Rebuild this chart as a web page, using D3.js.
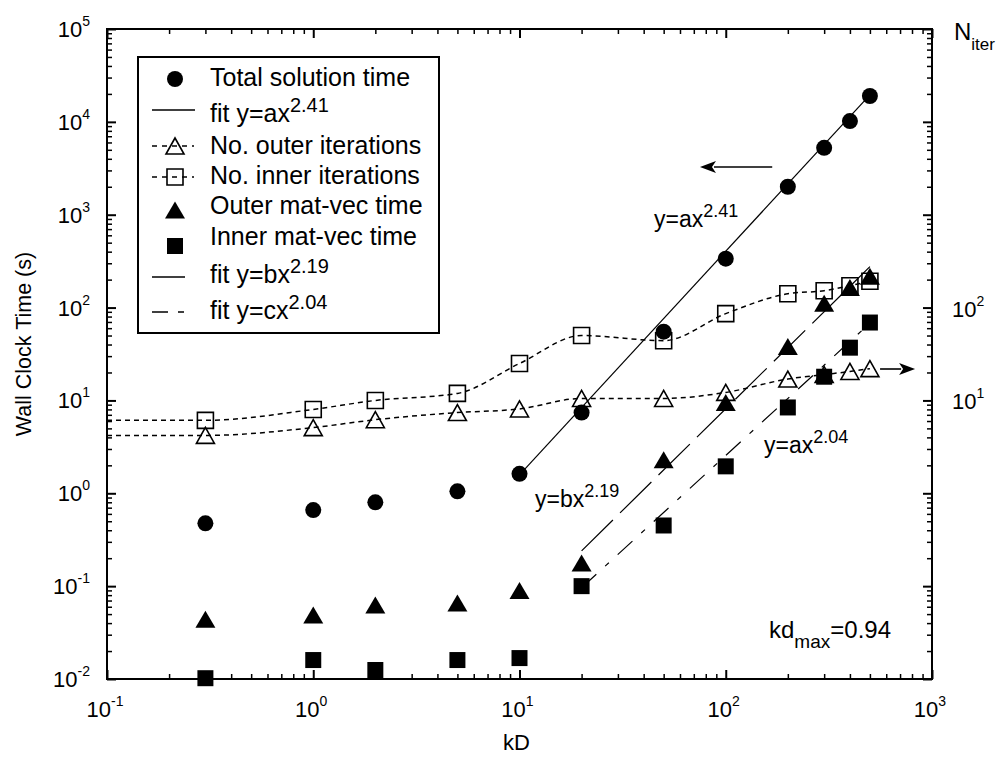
<!DOCTYPE html>
<html>
<head>
<meta charset="utf-8">
<script src="https://cdn.jsdelivr.net/npm/d3@7"></script>
<style>
  body { margin: 0; background: #fff; }
  svg { display: block; font-family: 'Liberation Sans', Arial, sans-serif; }
</style>
</head>
<body>
<div id="chart"></div>
<script>
const SIZE = Object.freeze({ WIDTH: 1002, HEIGHT: 759 }),
      PLOT = Object.freeze({ LEFT: 107, RIGHT: 932, TOP: 29, BOTTOM: 679 })

// data
const KD = [0.3, 1, 2, 5, 10, 20, 50, 100, 200, 300, 400, 500]
const TOTAL_TIME = [0.475, 0.66, 0.80, 1.05, 1.62, 7.4, 55, 336, 2000, 5250, 10200, 19000]
const OUTER_ITER = [4.2, 5.1, 6.2, 7.4, 8.1, 10.5, 10.5, 12.2, 17, 19, 20.5, 22]
const INNER_ITER = [6.1, 8.0, 10, 11.9, 25, 50, 44, 86, 141, 152, 172, 192]
const OUTER_MATVEC = [0.044, 0.049, 0.0625, 0.066, 0.09, 0.177, 2.3, 9.5, 38, 111, 164, 218]
const INNER_MATVEC = [0.0102, 0.016, 0.0125, 0.016, 0.0168, 0.1, 0.45, 1.95, 8.4, 18, 37, 69]
const FIT_A = [[10, 1.58], [500, 19500]]
const FIT_B = [[20, 0.24], [500, 276]]
const FIT_C = [[20, 0.096], [500, 68]]

const X_TICKS = [0.1, 1, 10, 100, 1000],
      X_TICK_EXP = ['-1', '0', '1', '2', '3']
const Y_TICKS = [1e-2, 1e-1, 1, 10, 100, 1e3, 1e4, 1e5],
      Y_TICK_EXP = ['-2', '-1', '0', '1', '2', '3', '4', '5']
const N_TICKS = [10, 100],
      N_TICK_EXP = ['1', '2']

const LEGEND_LABELS = ['Total solution time', 'fit y=ax', 'No. outer iterations', 'No. inner iterations',
                       'Outer mat-vec time', 'Inner mat-vec time', 'fit y=bx', 'fit y=cx']
const LEGEND_SUPS = ['', '2.41', '', '', '', '', '2.19', '2.04']
const LEGEND_SYMBOLS = ['circle', 'fitA', 'openTri', 'openSq', 'tri', 'sq', 'fitB', 'fitC']

// annotation arrows in data space: [from, to]
const ARROW_LEFT = [[168, 3270], [75, 3270]]
const ARROW_RIGHT = [[560, 21.8], [828, 21.8]]

// layout
const LEGEND_BOX = { x: 138, y: 57, w: 301, h: 276 },
      LEGEND_SYMBOL_Y = [79, 110, 146, 177, 210, 246, 277, 312],
      LEGEND_TEXT_Y = [86, 122, 154, 184, 214, 245, 283, 319]

const DASH_ITER = '5,4',
      DASH_FIT_B = '44,10',
      DASH_FIT_C = '20,12,5,12'

const x = d3.scaleLog().domain([0.1, 1000]).range([PLOT.LEFT, PLOT.RIGHT])
const y = d3.scaleLog().domain([0.01, 1e5]).range([PLOT.BOTTOM, PLOT.TOP])

const minorTicks = (majors) => {
  const out = []
  majors.slice(0, -1).forEach(d => { for (let k = 2; k <= 9; k++) out.push(d * k) })
  return out
}

const svg = d3.select('#chart').append('svg')
  .attr('width', SIZE.WIDTH)
  .attr('height', SIZE.HEIGHT)

// ---- markers
const triPath = (w, h) => `M0,${-h / 2}L${w / 2},${h / 2}L${-w / 2},${h / 2}Z`
const sqPath = (s) => `M${-s / 2},${-s / 2}h${s}v${s}h${-s}Z`

const drawMarker = (g, type, cx, cy) => {
  const t = `translate(${cx},${cy})`
  if (type === 'circle') {
    g.append('circle').attr('cx', cx).attr('cy', cy).attr('r', 8).attr('fill', '#000')
  } else if (type === 'tri') {
    g.append('path').attr('d', triPath(20, 17)).attr('transform', t).attr('fill', '#000')
  } else if (type === 'sq') {
    g.append('path').attr('d', sqPath(16)).attr('transform', t).attr('fill', '#000')
  } else if (type === 'openTri') {
    g.append('path').attr('d', triPath(18, 16)).attr('transform', t)
      .attr('fill', 'none').attr('stroke', '#000').attr('stroke-width', 1.6)
  } else if (type === 'openSq') {
    g.append('path').attr('d', sqPath(16)).attr('transform', t)
      .attr('fill', 'none').attr('stroke', '#000').attr('stroke-width', 1.6)
  }
}

// ---- axes (inward ticks on all four sides)
const axisGroup = svg.append('g').attr('class', 'axes')
const tickStyle = (sel, w) => sel.selectAll('.tick line').attr('stroke', '#000').attr('stroke-width', w)

const addAxis = (axisFn, scale, majors, transform) => {
  const gMajor = axisGroup.append('g').attr('transform', transform)
    .call(axisFn(scale).tickValues(majors).tickSize(-9).tickSizeOuter(0).tickFormat(''))
  gMajor.select('.domain').remove()
  tickStyle(gMajor, 2)
  const gMinor = axisGroup.append('g').attr('transform', transform)
    .call(axisFn(scale).tickValues(minorTicks(majors)).tickSize(-5).tickSizeOuter(0).tickFormat(''))
  gMinor.select('.domain').remove()
  tickStyle(gMinor, 1.5)
}

addAxis(d3.axisBottom, x, X_TICKS, `translate(0,${PLOT.BOTTOM})`)
addAxis(d3.axisTop, x, X_TICKS, `translate(0,${PLOT.TOP})`)
addAxis(d3.axisLeft, y, Y_TICKS, `translate(${PLOT.LEFT},0)`)
addAxis(d3.axisRight, y, Y_TICKS, `translate(${PLOT.RIGHT},0)`)

axisGroup.append('rect')
  .attr('x', PLOT.LEFT).attr('y', PLOT.TOP)
  .attr('width', PLOT.RIGHT - PLOT.LEFT).attr('height', PLOT.BOTTOM - PLOT.TOP)
  .attr('fill', 'none').attr('stroke', '#000').attr('stroke-width', 2)

const powerLabel = (sel, exp, supSize, rise) => {
  sel.append('tspan').text('10')
  sel.append('tspan').attr('dy', -rise).attr('font-size', supSize).text(exp)
}

X_TICKS.forEach((v, i) => {
  svg.append('text')
    .attr('x', x(v) - 2).attr('y', PLOT.BOTTOM + 38)
    .attr('text-anchor', 'middle').attr('font-size', 22)
    .call(powerLabel, X_TICK_EXP[i], 14, 11)
})

Y_TICKS.forEach((v, i) => {
  svg.append('text')
    .attr('x', PLOT.LEFT - 17).attr('y', y(v) + 8)
    .attr('text-anchor', 'end').attr('font-size', 22)
    .call(powerLabel, Y_TICK_EXP[i], 14, 11)
})

N_TICKS.forEach((v, i) => {
  svg.append('text')
    .attr('x', PLOT.RIGHT + 20).attr('y', y(v) + 9)
    .attr('text-anchor', 'start').attr('font-size', 22)
    .call(powerLabel, N_TICK_EXP[i], 14, 11)
})

const nIter = svg.append('text').attr('x', PLOT.RIGHT + 22).attr('y', 40).attr('font-size', 24)
nIter.append('tspan').text('N')
nIter.append('tspan').attr('dy', 10).attr('font-size', 17).text('iter')

svg.append('text')
  .attr('transform', `translate(31,344) rotate(-90)`)
  .attr('text-anchor', 'middle').attr('font-size', 21.5)
  .text('Wall Clock Time (s)')

svg.append('text')
  .attr('x', (PLOT.LEFT + PLOT.RIGHT) / 2 - 3).attr('y', 750)
  .attr('text-anchor', 'middle').attr('font-size', 22)
  .text('kD')

// ---- series
const plot = svg.append('g').attr('class', 'plot')

const iterLine = d3.line()
  .x(d => x(d[0])).y(d => y(d[1]))
  .curve(d3.curveMonotoneX)

const withLeftEdge = (vals) => [[x.domain()[0], vals[0]], ...KD.map((k, i) => [k, vals[i]])]

;[OUTER_ITER, INNER_ITER].forEach(vals => {
  plot.append('path')
    .attr('d', iterLine(withLeftEdge(vals)))
    .attr('fill', 'none').attr('stroke', '#000')
    .attr('stroke-width', 1.5).attr('stroke-dasharray', DASH_ITER)
})

const fitLine = d3.line().x(d => x(d[0])).y(d => y(d[1]))
;[[FIT_A, null], [FIT_B, DASH_FIT_B], [FIT_C, DASH_FIT_C]].forEach(([pts, dash]) => {
  plot.append('path')
    .attr('d', fitLine(pts))
    .attr('fill', 'none').attr('stroke', '#000')
    .attr('stroke-width', 1.2).attr('stroke-dasharray', dash)
})

const drawSeries = (vals, type) => KD.forEach((k, i) => drawMarker(plot, type, x(k), y(vals[i])))
drawSeries(OUTER_ITER, 'openTri')
drawSeries(INNER_ITER, 'openSq')
drawSeries(INNER_MATVEC, 'sq')
drawSeries(OUTER_MATVEC, 'tri')
drawSeries(TOTAL_TIME, 'circle')

// ---- arrows
const drawArrow = ([from, to]) => {
  const x0 = x(from[0]), x1 = x(to[0]), yy = y(from[1]), dir = Math.sign(x1 - x0)
  plot.append('line')
    .attr('x1', x0).attr('y1', yy).attr('x2', x1 - dir * 14).attr('y2', yy)
    .attr('stroke', '#000').attr('stroke-width', 1.6)
  plot.append('path')
    .attr('d', `M${x1},${yy}L${x1 - dir * 16},${yy - 6}L${x1 - dir * 12},${yy}L${x1 - dir * 16},${yy + 6}Z`)
    .attr('fill', '#000')
}
drawArrow(ARROW_LEFT)
drawArrow(ARROW_RIGHT)

// ---- annotations
const supText = (px, py, main, sup, size, supSize, rise) => {
  const t = svg.append('text').attr('x', px).attr('y', py).attr('font-size', size)
  t.append('tspan').text(main)
  t.append('tspan').attr('dy', -rise).attr('font-size', supSize).text(sup)
  return t
}
supText(654, 227, 'y=ax', '2.41', 23, 18, 10)
supText(535, 507, 'y=bx', '2.19', 23, 18, 10)
supText(764, 453, 'y=ax', '2.04', 23, 18, 10)

const kd = svg.append('text').attr('x', 769).attr('y', 638).attr('font-size', 24)
kd.append('tspan').text('kd')
kd.append('tspan').attr('dy', 10).attr('font-size', 19).text('max')
kd.append('tspan').attr('dy', -10).text('=0.94')

// ---- legend
const legend = svg.append('g').attr('class', 'legend')
legend.append('rect')
  .attr('x', LEGEND_BOX.x).attr('y', LEGEND_BOX.y)
  .attr('width', LEGEND_BOX.w).attr('height', LEGEND_BOX.h)
  .attr('fill', '#fff').attr('stroke', '#000').attr('stroke-width', 2)

const SYM_X = 175, LINE_X0 = 152, TEXT_X = 210
LEGEND_SYMBOLS.forEach((type, i) => {
  const sy = LEGEND_SYMBOL_Y[i]
  if (type === 'fitA' || type === 'fitB' || type === 'fitC') {
    const len = type === 'fitA' ? 43 : 33
    legend.append('line')
      .attr('x1', LINE_X0).attr('x2', LINE_X0 + len).attr('y1', sy).attr('y2', sy)
      .attr('stroke', '#000').attr('stroke-width', 1.5)
      .attr('stroke-dasharray', type === 'fitC' ? '16,10,6,20' : null)
  } else {
    if (type === 'openTri' || type === 'openSq') {
      legend.append('line')
        .attr('x1', LINE_X0).attr('x2', LINE_X0 + 42).attr('y1', sy).attr('y2', sy)
        .attr('stroke', '#000').attr('stroke-width', 1.5).attr('stroke-dasharray', '5,5')
    }
    drawMarker(legend, type, SYM_X, sy)
  }
  const t = legend.append('text').attr('x', TEXT_X).attr('y', LEGEND_TEXT_Y[i]).attr('font-size', 25)
  t.append('tspan').text(LEGEND_LABELS[i])
  if (LEGEND_SUPS[i]) t.append('tspan').attr('dy', -10).attr('font-size', 20).text(LEGEND_SUPS[i])
})
</script>
</body>
</html>
